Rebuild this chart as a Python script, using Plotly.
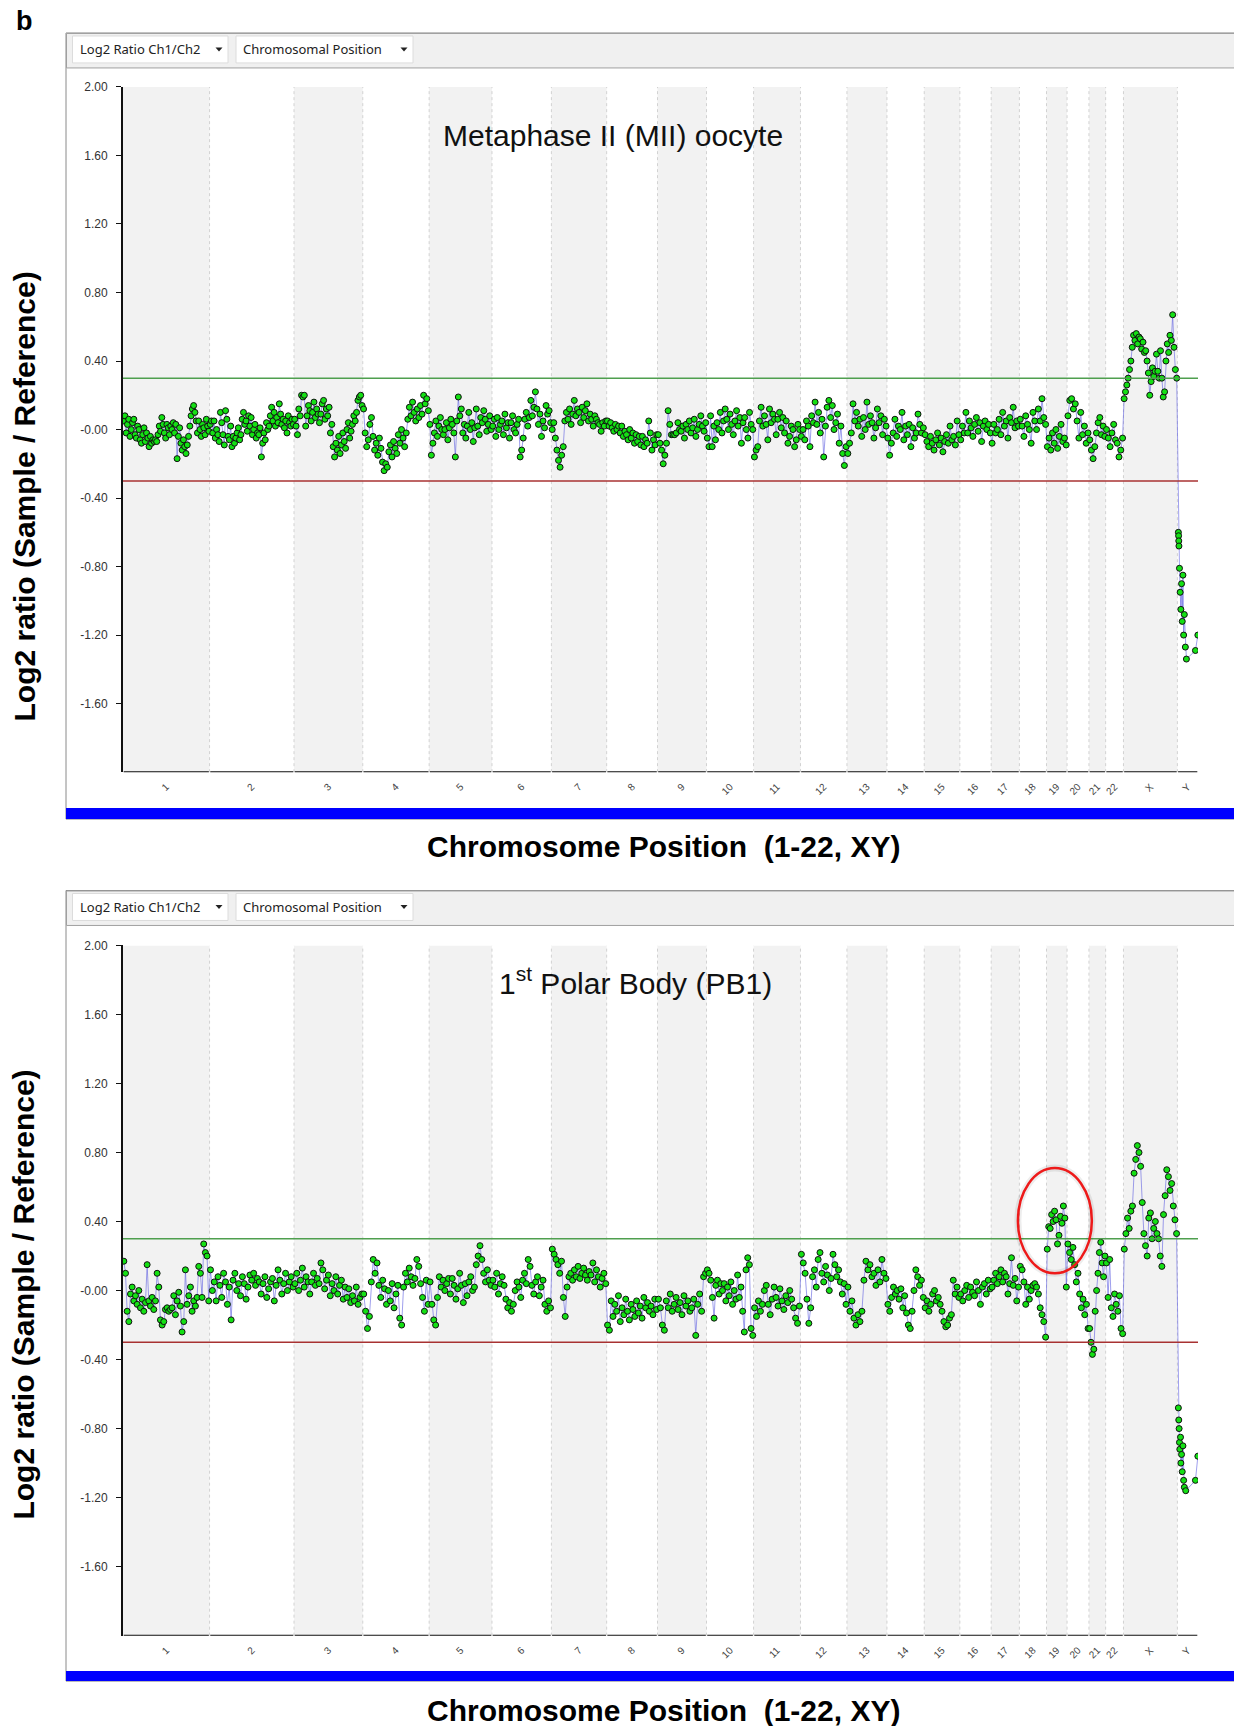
import plotly.graph_objects as go

W, H = 1234, 1726

# ---------------- data ----------------
CHROMS = [str(i) for i in range(1, 23)] + ["X", "Y"]
CHROM_MB = [249.25, 243.20, 198.02, 191.15, 180.92, 171.12, 159.14, 146.36, 141.21, 135.53,
            135.01, 133.85, 115.17, 107.35, 102.53, 90.35, 81.20, 78.08, 59.13, 63.03,
            48.13, 51.30, 155.27, 59.37]
Y_TICKS = [2.0, 1.6, 1.2, 0.8, 0.4, 0.0, -0.4, -0.8, -1.2, -1.6]
Y_TICK_TEXT = ["2.00", "1.60", "1.20", "0.80", "0.40", "-0.00", "-0.40", "-0.80", "-1.20", "-1.60"]
GAIN_THR = 0.30
LOSS_THR = -0.30

# Metaphase II oocyte (log2 ratios per chromosome, genomic order)
mii_1 = [0.05, 0.08, -0.02, 0.03, 0.06, -0.04, 0.0, 0.04, 0.06, -0.03, -0.05, 0.02, 0.0, -0.06, -0.08, -0.03,
         0.01, -0.07, -0.02, -0.05, -0.1, -0.04, -0.08, -0.06, -0.07, -0.06, -0.07, -0.03, 0.02, -0.01, 0.07,
         0.03, -0.02, -0.05, 0.03, 0.01, -0.03, 0.02, 0.0, 0.04, -0.02, 0.03, -0.17, -0.04, 0.01, -0.08, -0.12,
         -0.06, -0.1, -0.14, -0.09, -0.04, 0.02, 0.08, 0.12, 0.14, 0.1, 0.05, -0.02, 0.05, 0.0, -0.04, 0.03,
         0.01, -0.03, 0.06, 0.02, -0.01]
mii_2 = [0.03, 0.05, -0.02, 0.05, -0.05, 0.0, -0.03, -0.07, 0.1, 0.04, -0.03, -0.09, 0.11, 0.06, -0.04, -0.06,
         0.02, -0.1, -0.04, -0.08, -0.05, -0.02, 0.01, -0.06, -0.03, 0.06, 0.1, 0.03, 0.05, -0.01, 0.08, 0.02,
         0.07, -0.03, 0.0, 0.03, -0.05, -0.02, -0.03, 0.01, -0.16, -0.08, -0.02, -0.06, 0.04, 0.0, 0.02, 0.08,
         0.13, 0.05, 0.1, 0.02, 0.07, 0.04, 0.15, 0.09, 0.03, 0.06, 0.01, 0.05, -0.02, 0.08, 0.04, 0.02, 0.06,
         0.03]
mii_3 = [0.06, 0.02, -0.03, 0.12, 0.08, 0.2, 0.19, 0.2, 0.02, 0.08, 0.14, 0.11, 0.05, 0.1, 0.16, 0.07, 0.12,
         0.09, 0.04, 0.09, 0.15, 0.17, 0.06, 0.12, 0.08, 0.13, -0.02, 0.03, -0.1, -0.16, -0.08, -0.12, -0.04,
         -0.14, -0.09, -0.02, -0.07, -0.11, 0.0, 0.04, -0.05, -0.01, 0.03, 0.08, 0.05, 0.1, 0.17, 0.19, 0.2,
         0.14]
mii_4 = [0.12, -0.02, -0.1, -0.06, 0.03, 0.07, -0.04, -0.12, -0.08, -0.15, -0.05, -0.11, -0.19, -0.24, -0.2,
         -0.22, -0.13, -0.09, -0.16, -0.07, -0.11, -0.14, -0.03, -0.08, 0.0, -0.05, -0.1, -0.02, 0.06, 0.13,
         0.08, 0.16, 0.1, 0.05, 0.12, 0.07, 0.14, 0.09, 0.2, 0.15, 0.18, 0.11]
mii_5 = [0.03, -0.15, -0.08, -0.02, 0.05, -0.04, 0.02, 0.07, 0.0, -0.03, 0.0, 0.04, -0.06, 0.01, 0.06, 0.03,
         -0.02, -0.16, 0.05, 0.19, 0.08, 0.12, -0.02, 0.03, -0.05, 0.02, 0.1, 0.0, 0.04, -0.07, 0.01, 0.12,
         0.02, -0.03, 0.07, 0.04, 0.11, 0.06, -0.01, 0.03, 0.08, 0.0]
mii_6 = [0.02, 0.06, -0.04, 0.07, 0.0, 0.03, 0.05, -0.03, 0.09, 0.01, 0.04, -0.05, 0.04, 0.08, 0.0, -0.02,
         0.03, 0.06, -0.16, -0.12, -0.05, 0.06, 0.1, 0.02, 0.07, 0.17, 0.08, 0.13, 0.22, 0.12, 0.03, 0.09,
         -0.04, 0.05, 0.01, 0.14, 0.09, 0.11, 0.04]
mii_7 = [0.0, 0.04, -0.05, -0.12, -0.18, -0.22, -0.15, -0.1, 0.05, 0.1, 0.06, 0.12, 0.03, 0.09, 0.17, 0.08,
         0.12, 0.1, 0.04, 0.13, 0.07, 0.11, 0.15, 0.05, 0.09, 0.06, 0.02, 0.08, 0.06, 0.04, 0.03, -0.01, 0.04,
         0.02, 0.05]
mii_8 = [0.05, 0.02, 0.04, 0.01, -0.01, 0.03, 0.0, 0.02, -0.02, 0.02, -0.04, -0.01, -0.03, -0.06, 0.0, -0.05,
         -0.02, -0.08, -0.03, -0.07, -0.04, -0.09, -0.04, -0.1, -0.06, -0.08, 0.05, -0.02, -0.12, -0.06, -0.09,
         -0.03]
mii_9 = [-0.03, -0.08, -0.12, -0.2, -0.15, -0.08, 0.11, 0.03, -0.03, -0.03, -0.03, -0.02, 0.04, 0.0, -0.01,
         0.02, -0.05, 0.03, 0.0, 0.05, -0.02, 0.01, 0.06, -0.04, 0.0, 0.03, 0.08, 0.02, -0.01, 0.04]
mii_10 = [-0.05, -0.1, 0.08, -0.1, 0.02, -0.06, 0.04, 0.0, 0.1, -0.02, 0.05, 0.12, 0.06, 0.0, 0.09, 0.03,
          -0.03, 0.05, 0.11, 0.02, 0.07, -0.08, 0.04, 0.07, 0.0, -0.05, 0.1, 0.03, 0.0]
mii_11 = [-0.16, -0.12, -0.1, 0.05, 0.13, 0.02, 0.08, 0.03, -0.06, 0.12, 0.04, 0.09, 0.06, -0.03, 0.06, 0.1,
          0.01, 0.07, -0.02, 0.05, -0.08, -0.04, 0.02, 0.0, -0.1, -0.06, 0.03, 0.0]
mii_12 = [-0.04, 0.0, -0.06, 0.05, 0.02, -0.1, 0.08, 0.04, 0.16, 0.03, 0.1, -0.02, 0.06, -0.16, 0.02, 0.13,
          0.17, 0.07, 0.14, 0.0, 0.04, 0.09, -0.08, 0.02, -0.14, -0.21, -0.1]
mii_13 = [-0.14, -0.08, -0.02, 0.15, 0.05, 0.1, 0.02, 0.06, -0.04, 0.07, 0.0, 0.16, 0.03, 0.08, 0.04, -0.05,
          0.01, 0.12, 0.04, 0.08, -0.03, 0.06, 0.02]
mii_14 = [-0.05, -0.15, -0.08, -0.02, 0.06, -0.04, 0.02, 0.0, 0.1, -0.06, 0.02, -0.03, 0.03, -0.1, 0.01,
          -0.05, -0.02, 0.09, 0.03, -0.02, 0.01]
mii_15 = [-0.03, -0.07, -0.1, -0.04, -0.08, -0.12, -0.06, -0.02, -0.09, -0.05, -0.13, -0.07, -0.03, -0.08,
          0.02, -0.06, -0.04, -0.09, 0.05, -0.03]
mii_16 = [-0.06, 0.02, -0.02, 0.1, -0.02, 0.05, 0.01, -0.04, 0.03, 0.07, -0.01, 0.04, -0.07, 0.02, 0.05, 0.0,
          0.03, -0.02]
mii_17 = [-0.08, 0.03, -0.02, 0.0, 0.06, -0.03, 0.1, 0.02, 0.05, -0.05, 0.07, 0.04, 0.13, 0.01, 0.05, 0.02]
mii_18 = [0.06, 0.02, -0.04, 0.08, 0.03, 0.0, -0.08, 0.1, 0.05, 0.0, 0.12, 0.05, 0.18, 0.07, 0.03]
mii_19 = [-0.1, -0.05, -0.12, -0.02, -0.08, 0.0, -0.11, -0.04, 0.03, -0.07, -0.05, -0.09]
mii_20 = [0.08, 0.17, 0.18, 0.12, 0.15, 0.05, -0.05, 0.1, -0.03, 0.02, -0.08, -0.02]
mii_21 = [-0.06, -0.12, -0.17, -0.1, -0.02, 0.04, 0.07, -0.03, 0.02, -0.04]
mii_22 = [0.0, -0.05, -0.1, -0.02, 0.03, -0.06, -0.08, -0.16, -0.12, -0.05]
mii_X = [0.18, 0.22, 0.26, 0.3, 0.35, 0.4, 0.48, 0.55, 0.52, 0.56, 0.5, 0.54, 0.53, 0.47, 0.51, 0.45, 0.46,
         0.4, 0.33, 0.2, 0.28, 0.36, 0.31, 0.34, 0.44, 0.34, 0.3, 0.46, 0.3, 0.19, 0.22, 0.4, 0.5, 0.45, 0.55,
         0.52, 0.67, 0.48, 0.35, 0.3]
mii_Y = [-0.6, -0.62, -0.65, -0.68, -0.81, -0.95, -1.05, -0.9, -1.12, -0.85, -1.2, -1.08, -1.27, -1.34,
         -1.29, -1.2]
mii_Y_mb = [2.8, 3.5, 4.0, 4.5, 6.0, 8.0, 10.0, 12.0, 14.0, 16.0, 18.0, 20.0, 23.0, 26.0, 52.0, 59.0]

# 1st polar body
pb1_1 = [0.17, 0.1, -0.12, -0.18, -0.02, 0.02, -0.06, -0.03, -0.08, 0.0, -0.1, -0.05, -0.12, -0.07, 0.15,
         -0.06, -0.09, -0.04, -0.11, -0.06, 0.1, 0.02, -0.17, -0.2, -0.18, -0.11, -0.1, -0.12, -0.11, -0.1,
         -0.03, -0.14, -0.06, -0.01, -0.09, -0.24, -0.18, 0.12, -0.08, -0.03, 0.02, -0.12, -0.06, -0.09,
         -0.04, 0.14, 0.1, -0.04, 0.27, 0.22, 0.2, -0.06]
pb1_2 = [0.12, 0.0, 0.05, -0.06, 0.08, 0.03, -0.04, 0.1, 0.05, -0.08, 0.02, -0.17, 0.06, 0.1, 0.0, 0.04,
         -0.03, 0.08, 0.04, -0.05, 0.02, 0.09, 0.06, 0.1, 0.03, 0.07, 0.05, -0.02, 0.04, 0.08, -0.04, 0.01,
         0.05, 0.07, -0.06, 0.03, 0.12, 0.06, -0.02, 0.04, 0.1, 0.0, 0.05, 0.08, 0.02]
pb1_3 = [0.04, 0.1, 0.0, 0.06, 0.13, 0.02, 0.08, 0.05, -0.02, 0.05, 0.1, 0.03, 0.07, 0.04, 0.16, 0.12, 0.01,
         0.06, 0.09, -0.03, 0.04, 0.0, 0.08, -0.02, 0.03, 0.06, -0.05, 0.02, -0.04, 0.01, -0.07, -0.03, -0.06,
         0.02, -0.08, -0.04, -0.02]
pb1_4 = [-0.02, -0.12, -0.22, -0.15, 0.05, 0.18, 0.1, 0.16, 0.03, -0.04, 0.06, 0.01, -0.08, 0.0, -0.06, 0.04,
         -0.1, -0.02, 0.03, -0.16, -0.2, 0.02, 0.1, 0.05, 0.13, 0.08, 0.03, 0.07, 0.18, 0.14, 0.04, -0.04,
         -0.12, 0.06, -0.08]
pb1_5 = [0.05, -0.08, -0.17, -0.2, -0.04, 0.08, 0.02, 0.06, 0.0, 0.04, 0.07, -0.02, 0.07, 0.03, -0.05, 0.01,
         0.1, 0.03, -0.07, 0.04, -0.03, 0.05, 0.08, 0.0, 0.02, 0.15, 0.2, 0.26, 0.18, 0.1, 0.05, 0.12, 0.06,
         0.03]
pb1_6 = [0.06, 0.02, 0.1, -0.02, 0.04, 0.08, 0.03, -0.05, -0.1, -0.07, -0.12, -0.08, 0.0, 0.05, 0.02, -0.04,
         0.06, 0.1, 0.04, 0.18, 0.14, 0.03, -0.02, 0.05, 0.08, -0.03, 0.02, 0.06, -0.08, -0.12, -0.06, -0.1]
pb1_7 = [0.24, 0.21, 0.18, 0.15, 0.1, 0.17, -0.04, -0.15, 0.02, 0.08, 0.1, 0.06, 0.12, 0.08, 0.14, 0.07, 0.1,
         0.13, 0.09, 0.06, 0.11, 0.09, 0.16, 0.05, 0.12, 0.08, 0.02, 0.07, 0.1, 0.04]
pb1_8 = [-0.2, -0.23, -0.06, -0.15, -0.08, -0.12, -0.03, -0.18, -0.1, -0.14, -0.05, -0.12, -0.17, -0.08,
         -0.11, -0.15, -0.06, -0.13, -0.09, -0.16, -0.04, -0.1, -0.07, -0.12, -0.09, -0.14, -0.05, -0.11]
pb1_9 = [-0.05, -0.1, -0.2, -0.23, -0.06, -0.1, -0.02, -0.12, -0.08, -0.04, -0.11, -0.07, -0.14, -0.03,
         -0.09, -0.06, -0.12, -0.1, -0.05, -0.26, -0.08, -0.02, -0.12, 0.08, 0.1]
pb1_10 = [0.12, 0.1, 0.06, -0.04, -0.16, 0.03, 0.06, -0.02, 0.04, 0.0, 0.04, -0.06, 0.02, -0.03, 0.05, -0.08,
          0.0, -0.05, 0.09, -0.04, 0.02, -0.12, -0.24, 0.12, 0.19, 0.15, -0.22, -0.26]
pb1_11 = [-0.1, -0.15, -0.06, -0.12, -0.08, 0.0, 0.03, -0.08, -0.14, -0.05, 0.02, -0.04, -0.09, 0.01, -0.06,
          -0.11, -0.03, -0.07, 0.0, -0.05, -0.1, -0.16, -0.19, -0.09]
pb1_12 = [0.21, 0.16, 0.1, -0.05, -0.19, -0.1, 0.08, 0.12, 0.02, 0.18, 0.22, 0.1, 0.05, 0.14, 0.09, 0.0, 0.07,
          0.21, 0.15, 0.08, 0.12, 0.05, -0.02, 0.04, -0.08]
pb1_13 = [0.02, -0.12, -0.06, -0.16, -0.2, -0.14, -0.18, -0.12, 0.06, 0.17, 0.12, 0.15, 0.08, 0.1, 0.03, 0.12,
          0.05, 0.18, 0.1, 0.07]
pb1_14 = [-0.08, -0.12, -0.04, 0.02, -0.02, 0.0, -0.05, 0.01, -0.1, -0.03, -0.13, -0.2, -0.22, -0.12, 0.0,
          0.12, 0.08, 0.03, 0.06, -0.04]
pb1_15 = [-0.1, -0.06, -0.12, -0.08, -0.02, 0.0, -0.06, -0.04, -0.08, -0.12, -0.18, -0.21, -0.2, -0.16,
          -0.14, 0.06, -0.02, 0.02, -0.04]
pb1_16 = [-0.02, -0.06, 0.0, 0.03, -0.04, 0.02, -0.01, -0.03, 0.05, 0.0, -0.08, 0.02, 0.04, -0.02, 0.06, 0.01]
pb1_17 = [0.02, 0.06, 0.1, 0.04, 0.08, 0.12, 0.05, 0.1, 0.08, -0.02, 0.04, 0.19, 0.03, 0.07, -0.06, 0.02]
pb1_18 = [0.14, 0.12, 0.05, -0.08, 0.02, -0.05, 0.0, 0.03, 0.04, 0.02, -0.02, -0.1, -0.14, -0.18, -0.27]
pb1_19 = [0.24, 0.37, 0.36, 0.44, 0.4, 0.46, 0.41, 0.27, 0.32, 0.43, 0.39, 0.49, 0.42, 0.02]
pb1_20 = [0.27, 0.22, 0.18, 0.25, 0.15, 0.05, 0.1, -0.02, -0.1, -0.05, -0.14, -0.08, -0.22]
pb1_21 = [-0.22, -0.3, -0.37, -0.34, -0.12, 0.0, 0.1, 0.22, 0.28, 0.16, 0.08, 0.2]
pb1_22 = [0.16, -0.04, 0.18, -0.1, -0.15, -0.02, -0.08, -0.12, -0.03, -0.22, -0.25]
pb1_X = [0.24, 0.33, 0.42, 0.36, 0.46, 0.49, 0.68, 0.76, 0.84, 0.8, 0.72, 0.51, 0.33, 0.26, 0.2, 0.42, 0.45,
         0.3, 0.36, 0.4, 0.33, 0.3, 0.2, 0.14, 0.44, 0.55, 0.7, 0.66, 0.58, 0.62, 0.49, 0.41, 0.33]
pb1_Y = [-0.68, -0.75, -0.8, -0.88, -0.92, -0.85, -1.0, -0.95, -1.05, -0.9, -1.1, -1.14, -1.16, -1.1, -0.96]
pb1_Y_mb = [2.8, 4.0, 5.0, 6.0, 7.0, 9.0, 10.0, 12.0, 14.0, 16.0, 18.0, 20.0, 24.0, 52.0, 59.0]

MII = [mii_1, mii_2, mii_3, mii_4, mii_5, mii_6, mii_7, mii_8, mii_9, mii_10, mii_11, mii_12, mii_13,
       mii_14, mii_15, mii_16, mii_17, mii_18, mii_19, mii_20, mii_21, mii_22, mii_X, mii_Y]
PB1 = [pb1_1, pb1_2, pb1_3, pb1_4, pb1_5, pb1_6, pb1_7, pb1_8, pb1_9, pb1_10, pb1_11, pb1_12, pb1_13,
       pb1_14, pb1_15, pb1_16, pb1_17, pb1_18, pb1_19, pb1_20, pb1_21, pb1_22, pb1_X, pb1_Y]

# ---------------- geometry helpers ----------------
starts = []
acc = 0.0
for L in CHROM_MB:
    starts.append(acc)
    acc += L
GENOME = acc
centers = [s + L / 2 for s, L in zip(starts, CHROM_MB)]


def genome_positions(series, y_mb):
    xs, ys = [], []
    for k, vals in enumerate(series):
        s, L = starts[k], CHROM_MB[k]
        if CHROMS[k] == "Y":
            pos = [s + p for p in y_mb]
        else:
            n = len(vals)
            pos = [s + (i + 0.5) / n * L for i in range(n)]
        xs += pos
        ys += vals
    return xs, ys


def px(x):
    return x / W


def py(y):
    y = y - 5.0 * (1 - y / 1710.0)
    return 1 - y / H


PANELS = [
    dict(frame_top=31, plot_top=85, plot_bot=771, bar_top=807, bar_bot=818, xtitle=845,
         title="Metaphase II (MII) oocyte", title_x=613, title_y=134, ytitle_y=495),
    dict(frame_top=889.5, plot_top=944.5, plot_bot=1635.5, bar_top=1671, bar_bot=1681, xtitle=1710,
         title="1<sup>st</sup> Polar Body (PB1)", title_x=635, title_y=980, ytitle_y=1294),
]

PLOT_L, PLOT_R = 123, 1198
FONT = "Liberation Sans, Arial, sans-serif"

fig = go.Figure()
shapes = []
annotations = []

for pi, (series, ymb, P) in enumerate(zip([MII, PB1], [mii_Y_mb, pb1_Y_mb], PANELS)):
    xa = "x" if pi == 0 else "x2"
    ya = "y" if pi == 0 else "y2"
    xs, ys = genome_positions(series, ymb)
    fig.add_trace(go.Scatter(
        x=xs, y=ys, mode="lines+markers", xaxis=xa, yaxis=ya,
        line=dict(color="rgba(95,95,225,0.6)", width=1),
        marker=dict(size=6, color="#14e014", line=dict(color="#101010", width=1)),
        showlegend=False, hoverinfo="skip"))

    ft = P["frame_top"]
    shapes.append(dict(type="rect", xref="paper", yref="paper", x0=px(66), x1=px(1240),
                       y0=py(P["bar_bot"]), y1=py(ft), line=dict(color="#8a8a8a", width=1),
                       fillcolor="white", layer="below"))
    shapes.append(dict(type="rect", xref="paper", yref="paper", x0=px(66.5), x1=px(1240),
                       y0=py(ft + 35), y1=py(ft + 0.5), line=dict(color="#a0a0a0", width=1),
                       fillcolor="#f0f0f0", layer="below"))
    for (bx0, bx1, label, arrow_x) in [(72.5, 228, "Log2 Ratio Ch1/Ch2", 219),
                                         (236, 413, "Chromosomal Position", 404)]:
        shapes.append(dict(type="rect", xref="paper", yref="paper", x0=px(bx0), x1=px(bx1),
                           y0=py(ft + 30), y1=py(ft + 3), line=dict(color="#dcdcdc", width=1),
                           fillcolor="white", layer="below"))
        annotations.append(dict(text=label, xref="paper", yref="paper", x=px(bx0 + 5),
                                y=py(ft + 16.5), xanchor="left", yanchor="middle", showarrow=False,
                                font=dict(family="Noto Sans, sans-serif", size=13, color="#222")))
        ay = ft + 16.5
        shapes.append(dict(type="path", xref="paper", yref="paper",
                           path=f"M {px(arrow_x-3.5)},{py(ay-2)} L {px(arrow_x+3.5)},{py(ay-2)} "
                                f"L {px(arrow_x)},{py(ay+2)} Z",
                           fillcolor="#222", line=dict(width=0)))
    shapes.append(dict(type="rect", xref="paper", yref="paper", x0=px(66), x1=px(1240),
                       y0=py(P["bar_bot"]), y1=py(P["bar_top"]), line=dict(width=0),
                       fillcolor="#0000ff"))

    for k, (s, L) in enumerate(zip(starts, CHROM_MB)):
        if k % 2 == 0:
            shapes.append(dict(type="rect", xref=xa, yref=ya, x0=s, x1=s + L, y0=-2, y1=2,
                               fillcolor="#f2f2f2", line=dict(width=0), layer="below"))
        if k > 0:
            shapes.append(dict(type="line", xref=xa, yref=ya, x0=s, x1=s, y0=-2, y1=2,
                               line=dict(color="#d2d2d2", width=1, dash="3px,3px"), layer="below"))
        shapes.append(dict(type="line", xref=xa, yref=ya, x0=s + 2.0, x1=s + L - 2.0, y0=-2, y1=-2,
                           line=dict(color="#111", width=2)))

    shapes.append(dict(type="line", xref=xa, yref=ya, x0=0, x1=GENOME, y0=GAIN_THR, y1=GAIN_THR,
                       line=dict(color="#4f9f4f", width=1.5)))
    shapes.append(dict(type="line", xref=xa, yref=ya, x0=0, x1=GENOME, y0=LOSS_THR, y1=LOSS_THR,
                       line=dict(color="#a83232", width=1.5)))

    annotations.append(dict(text=P["title"], xref="paper", yref="paper", x=px(P["title_x"]),
                            y=py(P["title_y"]), xanchor="center", yanchor="middle", showarrow=False,
                            font=dict(family=FONT, size=30, color="#111")))
    annotations.append(dict(text="<b>Log2 ratio (Sample / Reference)</b>", xref="paper", yref="paper",
                            x=px(24), y=py(P["ytitle_y"]), xanchor="center", yanchor="middle",
                            textangle=-90, showarrow=False, font=dict(family=FONT, size=30, color="#000")))
    annotations.append(dict(text="<b>Chromosome Position  (1-22, XY)</b>", xref="paper", yref="paper",
                            x=px(663), y=py(P["xtitle"]), xanchor="center", yanchor="middle",
                            showarrow=False, font=dict(family=FONT, size=30, color="#000")))

annotations.append(dict(text="<b>b</b>", xref="paper", yref="paper", x=px(24), y=py(19),
                        xanchor="center", yanchor="middle", showarrow=False,
                        font=dict(family=FONT, size=27, color="#000")))

# highlight ellipse around the chr19 gain in PB1
shapes.append(dict(type="circle", xref="x2", yref="y2", x0=2577, x1=2790, y0=0.10, y1=0.71,
                   line=dict(color="rgba(0,0,0,0.07)", width=7)))
shapes.append(dict(type="circle", xref="x2", yref="y2", x0=2577, x1=2790, y0=0.10, y1=0.71,
                   line=dict(color="#ee1a1a", width=2.5)))

xaxis_common = dict(range=[0, GENOME], showgrid=False, zeroline=False, showline=False,
                    tickvals=centers, ticktext=CHROMS, tickangle=-45, ticks="",
                    ticklabelstandoff=6,
                    tickfont=dict(family=FONT, size=10, color="#444"), fixedrange=True)
yaxis_common = dict(range=[-2, 2], showgrid=False, zeroline=False, showline=True, linecolor="#111",
                    linewidth=2, tickvals=Y_TICKS, ticktext=Y_TICK_TEXT, ticks="outside", ticklen=5,
                    tickcolor="#111", tickwidth=1, ticklabelstandoff=6,
                    tickfont=dict(family=FONT, size=12, color="#333"), fixedrange=True)

fig.update_layout(
    width=W, height=H, autosize=False,
    margin=dict(l=0, r=0, t=0, b=0, pad=0),
    paper_bgcolor="white", plot_bgcolor="rgba(0,0,0,0)",
    showlegend=False,
    xaxis=dict(domain=[px(PLOT_L), px(PLOT_R)], anchor="y", **xaxis_common),
    yaxis=dict(domain=[py(PANELS[0]["plot_bot"]), py(PANELS[0]["plot_top"])], anchor="x", **yaxis_common),
    xaxis2=dict(domain=[px(PLOT_L), px(PLOT_R)], anchor="y2", **xaxis_common),
    yaxis2=dict(domain=[py(PANELS[1]["plot_bot"]), py(PANELS[1]["plot_top"])], anchor="x2", **yaxis_common),
    shapes=shapes,
    annotations=annotations,
)

fig.write_html("out.html", config={"displayModeBar": False},
               post_script="document.documentElement.style.margin='0';document.body.style.margin='0';"
                           "document.body.style.overflow='hidden';")
